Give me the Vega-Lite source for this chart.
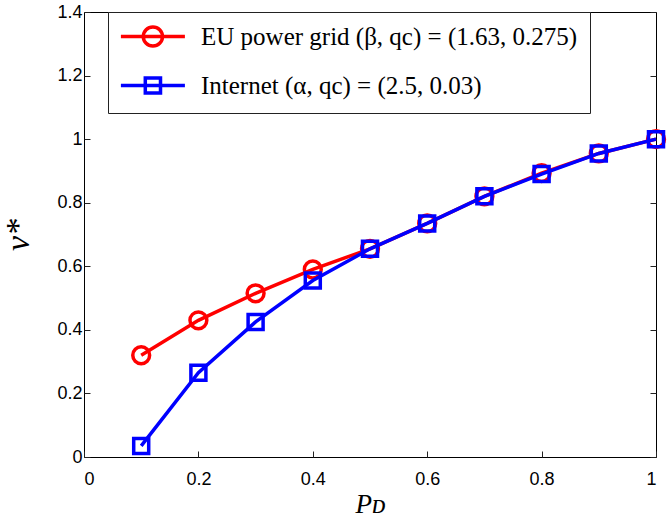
{
  "$schema": "https://vega.github.io/schema/vega-lite/v6.json",
  "width": 572,
  "height": 445,
  "autosize": "none",
  "padding": {"left": 84, "top": 12, "right": 15, "bottom": 65},
  "background": "white",
  "config": {
    "view": {"stroke": "black", "strokeWidth": 1},
    "axis": {
      "domain": false,
      "grid": false,
      "ticks": true,
      "tickSize": -6,
      "tickColor": "#222",
      "tickWidth": 1,
      "labelFont": "Liberation Sans",
      "labelFontSize": 18,
      "labelColor": "black",
      "titleFont": "Liberation Serif",
      "titleFontStyle": "italic",
      "titleFontWeight": "normal",
      "titleColor": "black"
    },
    "legend": {"labelFont": "Liberation Serif", "labelFontSize": 25, "labelColor": "black"}
  },
  "data": {
    "values": [
      {"series": "EU power grid (β, qc) = (1.63, 0.275)", "pd": 0.1, "v": 0.32},
      {"series": "EU power grid (β, qc) = (1.63, 0.275)", "pd": 0.2, "v": 0.43},
      {"series": "EU power grid (β, qc) = (1.63, 0.275)", "pd": 0.3, "v": 0.515},
      {"series": "EU power grid (β, qc) = (1.63, 0.275)", "pd": 0.4, "v": 0.59},
      {"series": "EU power grid (β, qc) = (1.63, 0.275)", "pd": 0.5, "v": 0.655},
      {"series": "EU power grid (β, qc) = (1.63, 0.275)", "pd": 0.6, "v": 0.735},
      {"series": "EU power grid (β, qc) = (1.63, 0.275)", "pd": 0.7, "v": 0.82},
      {"series": "EU power grid (β, qc) = (1.63, 0.275)", "pd": 0.8, "v": 0.893},
      {"series": "EU power grid (β, qc) = (1.63, 0.275)", "pd": 0.9, "v": 0.955},
      {"series": "EU power grid (β, qc) = (1.63, 0.275)", "pd": 1.0, "v": 1.0},
      {"series": "Internet (α, qc) = (2.5, 0.03)", "pd": 0.1, "v": 0.035},
      {"series": "Internet (α, qc) = (2.5, 0.03)", "pd": 0.2, "v": 0.265},
      {"series": "Internet (α, qc) = (2.5, 0.03)", "pd": 0.3, "v": 0.425},
      {"series": "Internet (α, qc) = (2.5, 0.03)", "pd": 0.4, "v": 0.555},
      {"series": "Internet (α, qc) = (2.5, 0.03)", "pd": 0.5, "v": 0.655},
      {"series": "Internet (α, qc) = (2.5, 0.03)", "pd": 0.6, "v": 0.735},
      {"series": "Internet (α, qc) = (2.5, 0.03)", "pd": 0.7, "v": 0.82},
      {"series": "Internet (α, qc) = (2.5, 0.03)", "pd": 0.8, "v": 0.89},
      {"series": "Internet (α, qc) = (2.5, 0.03)", "pd": 0.9, "v": 0.955},
      {"series": "Internet (α, qc) = (2.5, 0.03)", "pd": 1.0, "v": 1.0}
    ]
  },
  "encoding": {
    "x": {"field": "pd", "type": "quantitative", "scale": {"domain": [0, 1], "nice": false},
          "axis": {"values": [0, 0.2, 0.4, 0.6, 0.8, 1], "format": "~g", "title": "Pᴅ", "titleFontSize": 27, "labelPadding": 19, "titlePadding": 3}},
    "color": {"field": "series", "type": "nominal",
      "scale": {"domain": ["EU power grid (β, qc) = (1.63, 0.275)", "Internet (α, qc) = (2.5, 0.03)"], "range": ["#ff0000", "#0000ff"]},
      "legend": {
        "orient": "none", "legendX": 24, "legendY": 0, "title": null,
        "fillColor": "white", "strokeColor": "#222", "padding": 12,
        "labelFont": "Liberation Serif", "labelFontSize": 25, "labelColor": "black",
        "labelOffset": 56, "rowPadding": 16, "labelLimit": 0,
        "labelExpr": "datum.label + '\u00a0\u00a0\u00a0\u00a0\u00a0\u00a0\u00a0\u00a0\u00a0\u00a0\u00a0'",
        "symbolSize": 256, "symbolStrokeWidth": 3.5,
        "encode": {"symbols": {"update": {
          "shape": {"signal": "indexof(datum.value, 'Internet') >= 0 ? 'M-1.45,0H6.55M1.6,-0.95H3.5V0.95H1.6Z' : 'M-1.45,0H6.55M1.35,0A1.2,1.2 0 1,0 3.75,0A1.2,1.2 0 1,0 1.35,0'"},
          "fill": {"value": "transparent"},
          "strokeWidth": {"value": 3.5},
          "size": {"value": 256},
          "opacity": {"value": 1}
        }}}
      }
    }
  },
  "resolve": {"axis": {"y": "independent"}},
  "layer": [
    {"transform": [{"filter": "indexof(datum.series, 'EU') >= 0"}],
     "mark": {"type": "line", "strokeWidth": 3.5},
     "encoding": {"y": {"field": "v", "type": "quantitative", "scale": {"domain": [0, 1.4], "nice": false},
          "axis": {"orient": "left", "values": [0, 0.2, 0.4, 0.6, 0.8, 1, 1.2, 1.4], "format": "~g", "title": "v*", "titleFontSize": 34, "labelPadding": 8, "titlePadding": 21}}}},
    {"transform": [{"filter": "indexof(datum.series, 'EU') >= 0"}],
     "mark": {"type": "point", "shape": "circle", "filled": false, "size": 284, "strokeWidth": 3.5, "opacity": 1},
     "encoding": {"y": {"field": "v", "type": "quantitative", "scale": {"domain": [0, 1.4], "nice": false}, "axis": null}}},
    {"transform": [{"filter": "indexof(datum.series, 'Internet') >= 0"}],
     "mark": {"type": "line", "strokeWidth": 3.5},
     "encoding": {"y": {"field": "v", "type": "quantitative", "scale": {"domain": [0, 1.4], "nice": false}, "axis": null}}},
    {"transform": [{"filter": "indexof(datum.series, 'Internet') >= 0"}],
     "mark": {"type": "point", "shape": "square", "filled": false, "size": 225, "strokeWidth": 3.5, "opacity": 1},
     "encoding": {"y": {"field": "v", "type": "quantitative", "scale": {"domain": [0, 1.4], "nice": false},
        "axis": {"orient": "right", "values": [0, 0.2, 0.4, 0.6, 0.8, 1, 1.2, 1.4], "labels": false, "title": null}}}}
  ]
}
